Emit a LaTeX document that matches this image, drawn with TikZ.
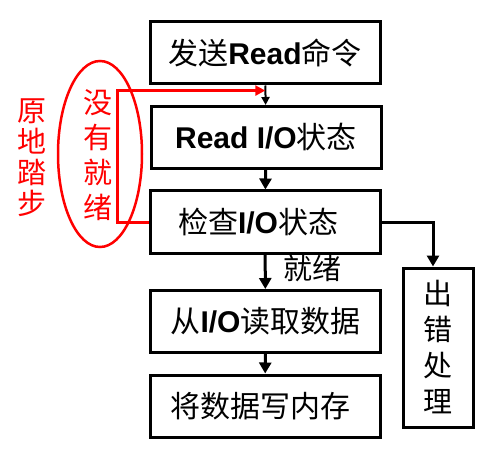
\documentclass[tikz,border=0pt]{standalone}
\usepackage{fontspec}
\setmainfont{Noto Sans CJK SC}
\newfontfamily\arial{Liberation Sans}
\usetikzlibrary{arrows.meta, calc}

\newcommand{\en}[1]{{\arial\bfseries #1}}

\begin{document}
\begin{tikzpicture}[x=1pt, y=-1pt,
    stepbox/.style={draw, line width=3pt, minimum width=230pt, minimum height=62pt,
      inner sep=0pt, font=\fontsize{30}{36}\selectfont},
    flow/.style={line width=3pt, -{Triangle[length=11pt, width=12pt]}},
    thinflow/.style={line width=2pt, -{Triangle[length=8pt, width=8pt]}},
    redtext/.style={red, align=center, font=\fontsize{29}{#1}\selectfont}]
  \useasboundingbox (0, 0) rectangle (495, 457);

  % main column
  \node[stepbox] (send) at (265, 53) {发送\en{Read}命令};
  \node[stepbox] (read) at (266, 137.5) {\en{Read I/O}状态};
  \node[stepbox] (check) at (265, 222) {检查\en{I/O}状态\hspace*{14pt}};
  \node[stepbox] (fetch) at (265.5, 321.5) {从\en{I/O}读取数据};
  \node[stepbox] (store) at (265, 406) {将数据写内存\hspace*{10pt}};
  \node[stepbox, minimum width=70pt, minimum height=159pt, align=center,
    font=\fontsize{29}{36}\selectfont] (err) at (438, 347.5) {出\\错\\处\\理};

  \draw[thinflow] (send) -- (read);
  \draw[flow] (read) -- (check);
  \draw[flow] (check) -- (fetch);
  \draw[flow] (fetch) -- (store);
  \draw[flow] (check.east) -| ([xshift=-5pt]err.north);
  \node[font=\fontsize{29}{34}\selectfont] (ready) at (312, 268) {就绪};

  % busy waiting loop
  \coordinate (join) at ($(send.south)!0.26!(read.north)$);
  \draw[red, line width=3pt, -{Triangle[length=10pt, width=10pt]}]
    (check.west) -- ++(-31, 0) |- (join);
  \draw[red, line width=2.5pt] (100, 154) ellipse [x radius=42, y radius=93];
  \node[redtext=35] (notready) at (98, 155) {没\\有\\就\\绪};
  \node[redtext=31] (spin) at (32, 158) {原\\地\\踏\\步};
\end{tikzpicture}
\end{document}
